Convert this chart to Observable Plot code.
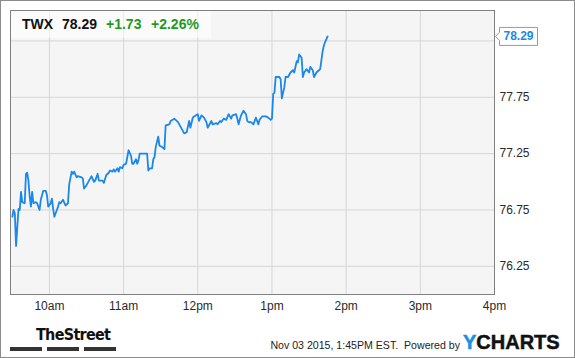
<!DOCTYPE html>
<html><head><meta charset="utf-8">
<script src="https://cdn.jsdelivr.net/npm/d3@7"></script>
<script src="https://cdn.jsdelivr.net/npm/@observablehq/plot@0.6"></script>
<style>
html,body{margin:0;padding:0;background:#fff;}
#wrap{position:relative;width:575px;height:358px;overflow:hidden;font-family:"Liberation Sans",Arial,sans-serif;color:#222;}
#wrap svg{position:absolute;left:0;top:0;}
.border{position:absolute;left:0;top:0;width:575px;height:358px;box-sizing:border-box;border:1px solid #8c8c8c;pointer-events:none;}
.band{position:absolute;left:11px;top:11px;width:200px;height:27px;background:rgba(255,255,255,0.55);}
.hdr{position:absolute;top:16px;font-size:14px;font-weight:bold;line-height:17px;white-space:nowrap;}
.foot{position:absolute;top:339px;right:115px;font-size:10.6px;line-height:13px;white-space:nowrap;color:#222;}
.yc{position:absolute;left:463px;top:332px;font-size:20px;line-height:20px;font-weight:bold;white-space:nowrap;color:#111;-webkit-text-stroke:0.5px currentColor;}
.yc span{color:#1a8fe3;}
.ts{position:absolute;left:36px;top:327px;font-family:"Liberation Sans Narrow","DejaVu Sans Condensed",sans-serif;font-weight:bold;font-size:16px;line-height:16px;letter-spacing:-0.7px;color:#111;white-space:nowrap;}
.bar{position:absolute;top:347px;height:4px;background:#333;}
</style>
</head><body>
<div id="wrap"></div>
<script>
// ---- data ----
const symbol = "TWX";
const lastPriceText = "78.29";
const changeText = "+1.73";
const changePctText = "+2.26%";
const footerText = "Nov 03 2015, 1:45PM EST.  Powered by";

const times = ["9:30","9:31","9:32","9:33","9:34","9:35","9:36","9:37","9:38","9:40","9:41","9:42","9:43","9:44","9:45","9:46","9:47","9:49","9:50","9:52","9:53","9:55","9:57","9:58","9:59",
"10:01","10:02","10:03","10:04","10:06","10:07","10:08","10:09","10:11","10:13","10:15","10:16","10:18","10:19","10:20","10:22","10:23","10:26","10:27","10:28","10:30","10:32","10:34","10:36","10:37","10:39","10:40","10:42","10:43","10:44","10:46","10:48","10:49","10:51","10:52","10:53","10:55","10:56","10:57","10:59",
"11:00","11:02","11:04","11:06","11:07","11:08","11:10","11:11","11:12","11:13","11:15","11:18","11:19","11:20","11:21","11:23","11:24","11:25","11:26","11:28","11:29","11:31","11:33","11:34","11:37","11:38","11:41","11:44","11:47","11:49","11:51","11:53","11:54","11:56","11:57",
"12:00","12:01","12:03","12:05","12:07","12:08","12:11","12:12","12:15","12:16","12:18","12:19","12:21","12:23","12:25","12:27","12:28","12:31","12:32","12:33","12:35","12:37","12:39","12:40","12:41","12:43","12:45","12:47","12:49","12:50","12:52","12:55","12:57","12:59",
"13:00","13:01","13:02","13:03","13:05","13:06","13:07","13:08","13:10","13:11","13:13","13:15","13:17","13:18","13:20","13:21","13:22","13:24","13:25","13:26","13:28","13:30","13:31","13:33","13:34","13:36","13:38","13:39","13:41","13:42","13:43","13:45"];
const prices = [76.69,76.75,76.72,76.43,76.60,76.76,76.75,76.91,76.82,76.81,77.07,77.08,77.01,76.87,76.78,76.91,76.81,76.82,76.81,76.75,76.84,76.92,76.92,76.88,76.78,
76.81,76.85,76.76,76.69,76.75,76.78,76.82,76.81,76.84,76.79,76.81,76.98,77.09,77.07,77.09,77.04,77.05,77.04,77.03,76.94,76.97,77.01,77.05,77.00,77.01,77.07,77.01,77.01,77.01,76.99,77.06,77.08,77.10,77.09,77.11,77.09,77.12,77.09,77.13,77.12,
77.15,77.16,77.28,77.23,77.16,77.16,77.20,77.16,77.19,77.25,77.25,77.25,77.25,77.10,77.12,77.12,77.20,77.22,77.31,77.40,77.32,77.31,77.29,77.50,77.51,77.54,77.56,77.53,77.47,77.43,77.44,77.54,77.48,77.57,77.58,
77.60,77.54,77.59,77.57,77.53,77.48,77.54,77.51,77.52,77.51,77.54,77.53,77.56,77.55,77.60,77.56,77.59,77.60,77.56,77.51,77.59,77.63,77.60,77.54,77.53,77.53,77.51,77.57,77.51,77.55,77.58,77.58,77.57,77.55,
77.56,77.78,77.79,77.93,77.93,77.93,77.91,77.74,77.84,77.93,77.93,77.97,77.99,77.97,78.07,78.06,78.13,78.10,77.93,77.97,78.00,77.97,78.02,77.99,77.93,77.97,77.99,78.00,78.16,78.21,78.24,78.29];

const xTickHours = [10, 11, 12, 13, 14, 15, 16];
const xTickLabels = ["10am", "11am", "12pm", "1pm", "2pm", "3pm", "4pm"];
const yTickValues = [76.25, 76.75, 77.25, 77.75];
const yGridValues = [76.25, 76.75, 77.25, 77.75, 78.25];
const yDomain = [76.0, 78.52];

// ---- build ----
const toDate = (s) => { const [h, m, sec] = s.split(":").map(Number); return new Date(Date.UTC(2015, 10, 3, h, m, sec || 0)); };
const data = times.map((t, i) => ({date: toDate(t), price: prices[i]}));
const tickDates = xTickHours.map(h => toDate(h + ":00"));
const gridDates = tickDates.slice(0, -1);

const chart = Plot.plot({
  width: 575, height: 358,
  marginLeft: 10, marginRight: 81, marginTop: 10, marginBottom: 64,
  style: {fontFamily: "'Liberation Sans', Arial, sans-serif", fontSize: "12px", color: "#2a2a2a", background: "transparent", overflow: "visible"},
  x: {type: "utc", domain: [toDate("9:28:30"), toDate("16:00")]},
  y: {domain: yDomain},
  marks: [
    Plot.frame({fill: "#f5f5f5", stroke: null}),
    Plot.gridX(gridDates, {stroke: "#d6d6d6", strokeOpacity: 1}),
    Plot.gridY(yGridValues, {stroke: "#d6d6d6", strokeOpacity: 1}),
    Plot.line(data, {x: "date", y: "price", stroke: "#1a88e8", strokeWidth: 1.8, strokeLinejoin: "round"}),
    Plot.frame({stroke: "#808080", strokeOpacity: 1}),
    Plot.axisX(tickDates, {tickSize: 0, tickPadding: 7, label: null,
      tickFormat: d => xTickLabels[xTickHours.indexOf(d.getUTCHours())]}),
    Plot.axisY(yTickValues, {anchor: "right", tickSize: 0, tickPadding: 5, label: null,
      tickFormat: d => d.toFixed(2)})
  ]
});

const wrap = document.getElementById("wrap");
wrap.appendChild(chart);

// last-value label box on the right axis
const lastPrice = prices[prices.length - 1];
const yv = chart.scale("y").apply(lastPrice);
const xr = chart.scale("x").range[1];
const g = d3.select(chart).append("g");
const L = xr + 5, R = xr + 43, hh = 9;
g.append("path")
  .attr("d", `M${xr + 1},${yv} L${L},${yv - 4} L${L},${yv - hh} L${R},${yv - hh} L${R},${yv + hh} L${L},${yv + hh} L${L},${yv + 4} Z`)
  .attr("fill", "#fff").attr("stroke", "#999").attr("transform", "translate(0.5,0.5)");
g.append("text").attr("x", (L + R) / 2 + 0.5).attr("y", yv).attr("dy", "0.36em")
  .attr("text-anchor", "middle").attr("font-weight", "bold").attr("font-size", 12)
  .attr("fill", "#1e88e5").text(lastPriceText);

// header & footer
function add(cls, html, style) { const d = document.createElement("div"); d.className = cls; d.innerHTML = html; if (style) d.style.cssText += style; wrap.appendChild(d); return d; }
add("band", "");
add("hdr", symbol, "left:22px;color:#111;");
add("hdr", lastPriceText, "left:62px;color:#111;");
add("hdr", changeText, "left:106px;color:#1f9a1f;");
add("hdr", changePctText, "left:151px;color:#1f9a1f;");
add("ts", "TheStreet");
add("bar", "", "left:10px;width:32px;");
add("bar", "", "left:47px;width:32px;");
add("bar", "", "left:84px;width:32px;");
add("foot", footerText.replace(/  /g, " &nbsp;"));
add("yc", "<span>Y</span>CHARTS");
add("border", "");
</script>
</body></html>
